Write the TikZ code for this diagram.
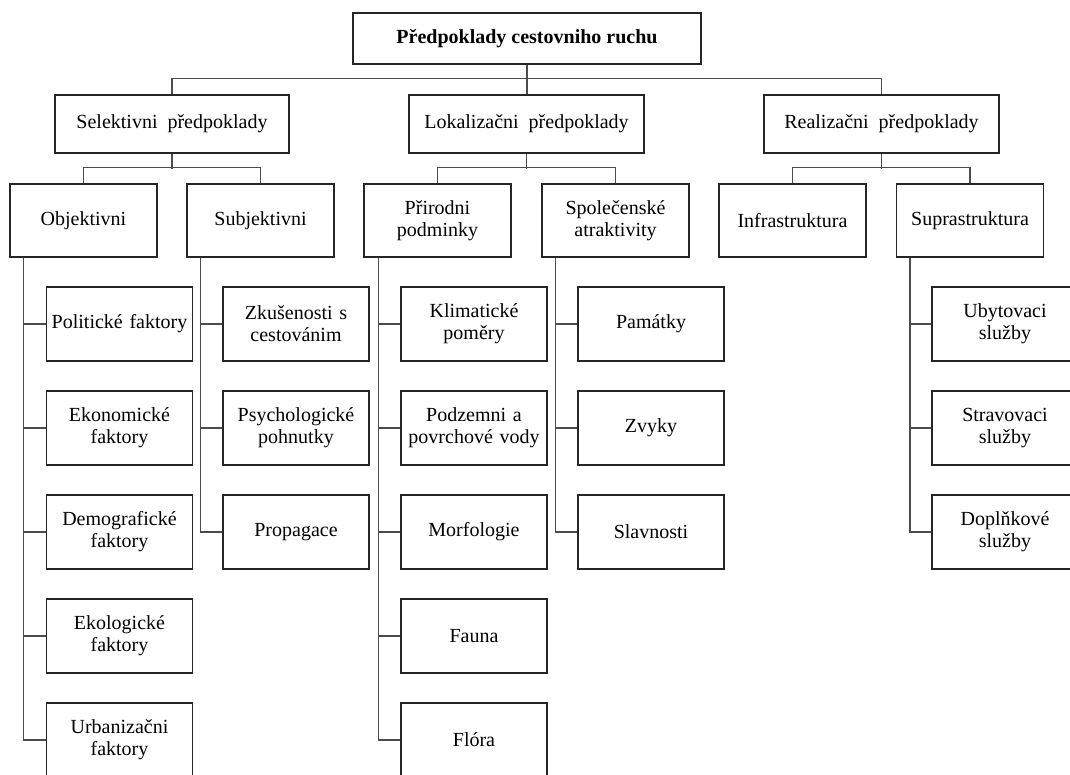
\documentclass[tikz,border=0pt]{standalone}
\usepackage{fontspec}
\setmainfont{Liberation Serif}
\begin{document}
\begin{tikzpicture}[x=1pt,y=-1pt,
  box/.style={draw=black!85, line width=1.2pt, inner sep=2pt, align=center,
    font=\fontsize{20}{22}\selectfont, text=black},
  lvltwo/.style={box, minimum width=235pt, minimum height=58pt},
  lvlthree/.style={box, minimum width=147pt, minimum height=73pt, text width=141pt},
  leaf/.style={box, minimum width=146pt, minimum height=74pt, text width=141pt},
  conn/.style={draw=black!70, line width=1.3pt}]
\clip (0,0) rectangle (1070,774);
\fill[white] (0,0) rectangle (1070,774);

% top
\node[box, minimum width=348pt, minimum height=51pt] (top) at (527,38.5) {\bfseries Předpoklady cestovniho ruchu};

% level 2
\node[lvltwo, minimum width=234pt] (sel) at (172,124) {Selektivni\ \ předpoklady};
\node[lvltwo] (lok) at (526.5,124) {Lokalizačni\ \ předpoklady};
\node[lvltwo] (real) at (881.5,124) {Realizačni\ \ předpoklady};

% level 3
\node[lvlthree] (obj)   at (83.5,220.5)  {Objektivni};
\node[lvlthree] (subj)  at (260.5,220.5) {Subjektivni};
\node[lvlthree] (prir)  at (437.5,220.5) {Přirodni\\podminky};
\node[lvlthree] (spol)  at (615.5,220.5) {Společenské\\atraktivity};
\node[lvlthree] (infra) at (792.5,220.5) {Infrastruktura};
\node[lvlthree] (supra) at (970,220.5)   {Suprastruktura};

% leaves: Objektivni
\node[leaf, text width=146pt, inner sep=0pt] (pol)  at (119.5,324) {Politické faktory};
\node[leaf] (eko)  at (119.5,428) {Ekonomické\\faktory};
\node[leaf] (dem)  at (119.5,532) {Demografické\\faktory};
\node[leaf] (ekol) at (119.5,636) {Ekologické\\faktory};
\node[leaf] (urb)  at (119.5,740) {Urbanizačni\\faktory};

% leaves: Subjektivni
\node[leaf] (zku) at (296,324) {Zkušenosti s\\cestovánim};
\node[leaf] (psy) at (296,428) {Psychologické\\pohnutky};
\node[leaf] (pro) at (296,532) {Propagace};

% leaves: Prirodni
\node[leaf] (kli) at (474,324) {Klimatické\\poměry};
\node[leaf] (pod) at (474,428) {Podzemni a\\povrchové vody};
\node[leaf] (mor) at (474,532) {Morfologie};
\node[leaf] (fau) at (474,636) {Fauna};
\node[leaf] (flo) at (474,740) {Flóra};

% leaves: Spolecenske
\node[leaf] (pam) at (651,324) {Památky};
\node[leaf] (zvy) at (651,428) {Zvyky};
\node[leaf] (sla) at (651,532) {Slavnosti};

% leaves: Suprastruktura
\node[leaf] (uby) at (1005,324) {Ubytovaci\\služby};
\node[leaf] (str) at (1005,428) {Stravovaci\\služby};
\node[leaf] (dop) at (1005,532) {Doplňkové\\služby};

% connectors level 1-2
\draw[conn] (top.south) -- (top.south |- lok.north);
\draw[conn] (sel.north) -- ++(0,-16) -| (real.north);

% connectors level 2-3
\draw[conn] (sel.south) -- ++(0,15);
\draw[conn] (obj.north) -- ++(0,-16) -| (subj.north);
\draw[conn] (lok.south) -- ++(0,15);
\draw[conn] (prir.north) -- ++(0,-16) -| (spol.north);
\draw[conn] (real.south) -- ++(0,15);
\draw[conn] (infra.north) -- ++(0,-16) -| (supra.north);

% connectors to leaves
\draw[conn] ([xshift=14pt]obj.south west) |- (urb.west);
\foreach \n in {pol,eko,dem,ekol} \draw[conn] (\n.west) -- ++(-22,0);
\draw[conn] ([xshift=14pt]subj.south west) |- (pro.west);
\foreach \n in {zku,psy} \draw[conn] (\n.west) -- ++(-22,0);
\draw[conn] ([xshift=15pt]prir.south west) |- (flo.west);
\foreach \n in {kli,pod,mor,fau} \draw[conn] (\n.west) -- ++(-22,0);
\draw[conn] ([xshift=14pt]spol.south west) |- (sla.west);
\foreach \n in {pam,zvy} \draw[conn] (\n.west) -- ++(-22,0);
\draw[conn] ([xshift=14pt]supra.south west) |- (dop.west);
\foreach \n in {uby,str} \draw[conn] (\n.west) -- ++(-21,0);
\end{tikzpicture}
\end{document}
